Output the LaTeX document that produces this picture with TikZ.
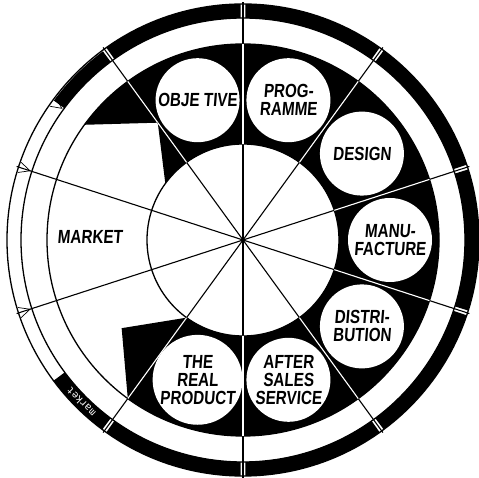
\documentclass[tikz,border=0pt]{standalone}
\usepackage{fontspec}
\newfontfamily\hand[FakeStretch=0.8,FakeSlant=0.08]{Liberation Sans}
\newfontfamily\labfont{DejaVu Sans Mono}
\newcommand\ringseg[4]{\fill (#1:#3) arc[start angle=#1,end angle=#2,radius=#3] -- (#2:#4) arc[start angle=#2,end angle=#1,radius=#4] -- cycle;}
\begin{document}
\begin{tikzpicture}[x=1pt,y=1pt,
  outline/.style={line width=1.3pt},
  radial/.style={line width=1.1pt},
  band/.style={insert path={(-126:196) arc[start angle=-126,end angle=126,radius=196] -- (126:96) arc[start angle=126,end angle=-126,radius=96] -- cycle
     (126:196) arc[start angle=126,end angle=144,radius=196] -- (126:145) -- (144:96) arc[start angle=144,end angle=126,radius=96] -- cycle
     (216:150) -- (234:96) -- (234:196) -- cycle}},
  stage/.style={circle, fill=white, minimum size=84pt, inner sep=0pt, align=center,
     font=\hand\bfseries\fontsize{19}{18}\selectfont},
  tick/.style={line width=0.7pt}]
\useasboundingbox[fill=white] (-243,-238) rectangle (236,240);
\coordinate (c) at (0,0);
% thin circles
\foreach \r in {236,222,196,96} \draw[outline] (c) circle (\r);
% radial lines
\foreach \a in {18,54,...,342} \draw[radial] (c) -- (\a:238);
% black band
\fill[black, band];
\begin{scope}
  \clip[band];
  \foreach \a in {18,54,90,126,234,270,306,342} \draw[radial,white] (c) -- (\a:238);
\end{scope}
% stage circles
\node[stage] (obj) at (108:147) {OBJE TIVE};
\node[stage] (prog) at (72:147) {PROG-\\RAMME};
\node[stage] (des) at (36:147) {DESIGN};
\node[stage] (manu) at (0:147) {MANU-\\FACTURE};
\node[stage] (dist) at (-36:147) {DISTRI-\\BUTION};
\node[stage] (after) at (-72:147) {AFTER\\SALES\\SERVICE};
\node[stage] (real) at (-108:147) {THE\\REAL\\PRODUCT};
\node[font=\hand\bfseries\fontsize{19}{18}\selectfont] (mkt) at (-153,3) {MARKET};
% outer ring segments
\ringseg{126.6}{143.6}{222}{235}
\ringseg{90.6}{125.4}{222}{236}
\ringseg{54.6}{89.4}{222}{236}
\ringseg{18.6}{53.4}{222}{236}
\ringseg{-17.4}{17.4}{222}{236}
\ringseg{-53.4}{-18.6}{222}{236}
\ringseg{-89.4}{-54.6}{222}{236}
\ringseg{-125.4}{-90.6}{222}{236}
\ringseg{216.6}{233.4}{222}{236}
\node[text=white, rotate=135, inner sep=0pt, font=\labfont\fontsize{10}{10}\selectfont] (lab) at (225:229) {market};
% small V marks
\foreach \a/\p/\q in {144/145.3/142.7, 162/163.3/160.7, 198/199.3/196.7}
  \draw[tick] (\p:235) -- (\a:224) -- (\q:235);
\end{tikzpicture}
\end{document}
